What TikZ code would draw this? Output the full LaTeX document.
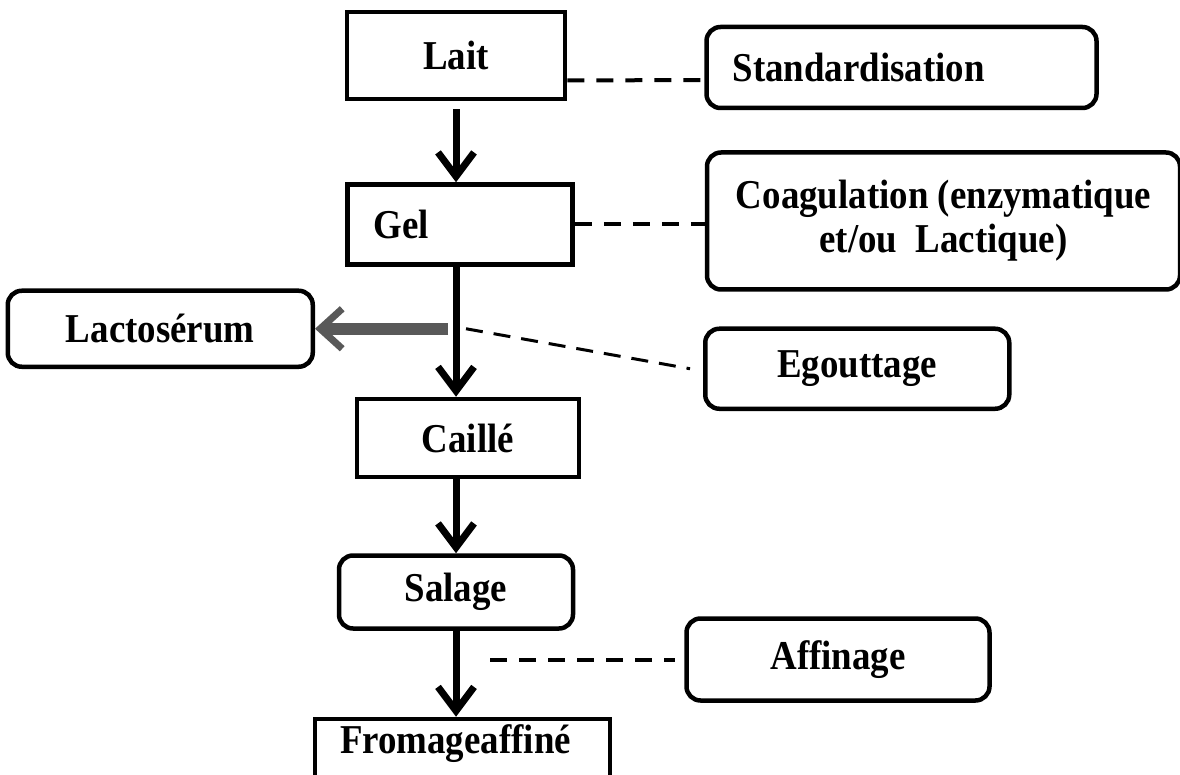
\documentclass[tikz,border=0pt]{standalone}
\usepackage{fontspec}
\setmainfont{Liberation Serif}[FakeStretch=0.9]
\usetikzlibrary{arrows.meta, positioning}
\tikzset{
  every node/.style={font=\fontsize{41}{44}\selectfont\bfseries},
  stage/.style={draw, line width=4.5pt, inner sep=0pt},
  phase/.style={draw, line width=4.5pt, rounded corners=14pt, inner sep=0pt},
  flow/.style={line width=7pt, -{Straight Barb[length=24pt, width=36pt, line width=7pt]}},
  drain/.style={line width=12pt, black!65, -{Straight Barb[length=22pt, width=40pt, line width=7pt]}},
  link/.style={line width=4pt, dash pattern=on 17pt off 12pt},
}

\begin{document}
\begin{tikzpicture}[x=1pt, y=1pt]
  \clip (0,0) rectangle (1180,-775);

  % --- Main chain ---
  \node[stage, minimum width=218pt, minimum height=87pt] (lait) at (456,-55.5) {Lait};
  \node[stage, below=81pt of lait, xshift=4pt, minimum height=80pt,
        inner xsep=26pt, text width=173pt, align=left] (gel) {Gel};
  \node[stage, below=130pt of gel, xshift=8pt, minimum width=222pt, minimum height=78pt] (caille) {Caillé};
  \node[phase, below=74pt of caille, xshift=-12pt, minimum width=234pt, minimum height=73pt] (salage) {Salage};
  \node[stage, below=86pt of salage, xshift=6.5pt, inner xsep=25pt, inner ysep=5pt,
        text width=245pt, align=left, text height=29pt, text depth=70pt] (fromage) {Fromageaffiné};

  % --- Side notes ---
  \node[phase, right=137pt of lait, yshift=-12pt, minimum height=81pt,
        inner xsep=26pt, text width=338pt, align=left] (std) {Standardisation};
  \node[phase, right=130pt of gel, yshift=3.5pt, minimum width=473pt, minimum height=137pt,
        align=center] (coag) {Coagulation (enzymatique\\ et/ou~~Lactique)};
  \coordinate[below=62pt of gel, xshift=-4pt] (split);
  \node[phase, left=141pt of split, minimum width=305pt, minimum height=76pt] (lacto) {Lactosérum};
  \node[phase, right=247pt of split, yshift=-40pt, minimum width=304pt, minimum height=80pt] (egout) {Egouttage};
  \node[phase, right=109pt of salage, yshift=-67.5pt, minimum width=303pt, minimum height=82pt] (affin) {Affinage};

  % --- Arrows ---
  \draw[flow] ([yshift=-8pt]lait.south) -- (lait.south |- gel.north);
  \draw[flow] (lait.south |- gel.south) -- (lait.south |- caille.north);
  \draw[flow] (lait.south |- caille.south) -- (lait.south |- salage.north);
  \draw[flow] (salage.south) -- (salage.south |- fromage.north);
  \draw[drain] ([xshift=-8pt]split) -- (lacto.east);

  % --- Dashed links ---
  \draw[link] (lait.east) ++(0,-25) -- ([yshift=-12.5pt]std.west);
  \draw[link] (gel.east) -- (gel.east -| coag.west);
  \draw[link, line width=3pt, dash pattern=on 17pt off 11pt] ([xshift=10pt]split) -- ([xshift=-13pt]egout.west);
  \draw[link] (salage.south |- affin.west) ++(34,0) -- ([xshift=-9pt]affin.west);
\end{tikzpicture}
\end{document}
